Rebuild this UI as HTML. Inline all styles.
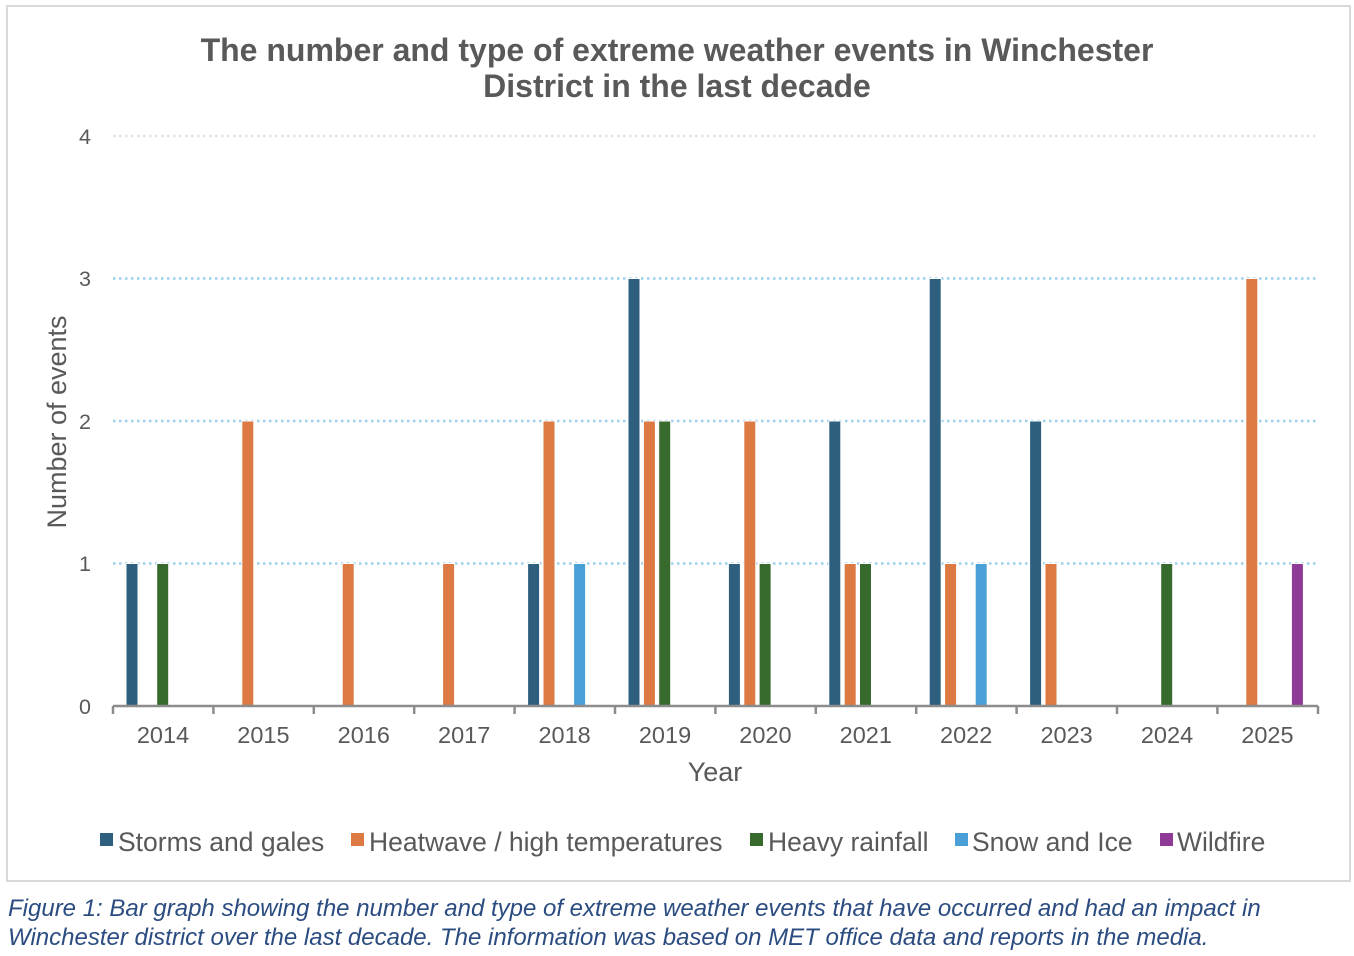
<!DOCTYPE html>
<html><head><meta charset="utf-8"><style>
body{margin:0;background:#fff;}
svg{display:block;font-family:"Liberation Sans",Arial,sans-serif;}
</style></head><body>
<svg width="1354" height="956" viewBox="0 0 1354 956" xmlns="http://www.w3.org/2000/svg">
<rect x="7" y="6" width="1343" height="875" fill="#fff" stroke="#d9d9d9" stroke-width="2"/>
<g font-weight="bold" font-size="32" fill="#595959" text-anchor="middle">
<text x="677" y="61">The number and type of extreme weather events in Winchester</text>
<text x="677" y="97">District in the last decade</text>
</g>
<g stroke="#9dd0ec" stroke-width="2.5" stroke-dasharray="2.5,3.5">
<line x1="113" y1="136" x2="1318" y2="136" stroke="#e2e2e2"/>
<line x1="113" y1="278.5" x2="1318" y2="278.5"/>
<line x1="113" y1="421" x2="1318" y2="421"/>
<line x1="113" y1="563.5" x2="1318" y2="563.5"/>
</g>
<g font-size="21.5" fill="#595959" text-anchor="end">
<text x="91" y="144">4</text><text x="91" y="286">3</text><text x="91" y="429">2</text><text x="91" y="571">1</text><text x="91" y="714">0</text>
</g>
<g stroke="#fff" stroke-width="1">
<g fill="#2e5f7f">
<rect x="126" y="563.5" width="12" height="142.5"/>
<rect x="527.6" y="563.5" width="12" height="142.5"/>
<rect x="628" y="278.5" width="12" height="427.5"/>
<rect x="728.4" y="563.5" width="12" height="142.5"/>
<rect x="828.8" y="421" width="12" height="285"/>
<rect x="929.2" y="278.5" width="12" height="427.5"/>
<rect x="1029.6" y="421" width="12" height="285"/>
</g>
<g fill="#dd7a43">
<rect x="241.8" y="421" width="12" height="285"/>
<rect x="342.2" y="563.5" width="12" height="142.5"/>
<rect x="442.6" y="563.5" width="12" height="142.5"/>
<rect x="543" y="421" width="12" height="285"/>
<rect x="643.4" y="421" width="12" height="285"/>
<rect x="743.8" y="421" width="12" height="285"/>
<rect x="844.2" y="563.5" width="12" height="142.5"/>
<rect x="944.6" y="563.5" width="12" height="142.5"/>
<rect x="1045" y="563.5" width="12" height="142.5"/>
<rect x="1245.8" y="278.5" width="12" height="427.5"/>
</g>
<g fill="#376b2e">
<rect x="156.7" y="563.5" width="12" height="142.5"/>
<rect x="658.7" y="421" width="12" height="285"/>
<rect x="759.1" y="563.5" width="12" height="142.5"/>
<rect x="859.5" y="563.5" width="12" height="142.5"/>
<rect x="1160.7" y="563.5" width="12" height="142.5"/>
</g>
<g fill="#4a9fd6">
<rect x="573.6" y="563.5" width="12" height="142.5"/>
<rect x="975.2" y="563.5" width="12" height="142.5"/>
</g>
<rect x="1291.4" y="563.5" width="12" height="142.5" fill="#8e3a96"/>
</g>
<g stroke="#8c8c8c" stroke-width="2.5">
<line x1="113" y1="706" x2="1318" y2="706"/>
<line x1="113" y1="706" x2="113" y2="714"/><line x1="213.4" y1="706" x2="213.4" y2="714"/><line x1="313.8" y1="706" x2="313.8" y2="714"/><line x1="414.2" y1="706" x2="414.2" y2="714"/><line x1="514.6" y1="706" x2="514.6" y2="714"/><line x1="615" y1="706" x2="615" y2="714"/><line x1="715.4" y1="706" x2="715.4" y2="714"/><line x1="815.8" y1="706" x2="815.8" y2="714"/><line x1="916.2" y1="706" x2="916.2" y2="714"/><line x1="1016.6" y1="706" x2="1016.6" y2="714"/><line x1="1117" y1="706" x2="1117" y2="714"/><line x1="1217.4" y1="706" x2="1217.4" y2="714"/><line x1="1318" y1="706" x2="1318" y2="714"/>
</g>
<g font-size="23.5" fill="#595959" text-anchor="middle">
<text x="163" y="743">2014</text><text x="263.4" y="743">2015</text><text x="363.8" y="743">2016</text><text x="464.2" y="743">2017</text><text x="564.6" y="743">2018</text><text x="665" y="743">2019</text><text x="765.4" y="743">2020</text><text x="865.8" y="743">2021</text><text x="966.2" y="743">2022</text><text x="1066.6" y="743">2023</text><text x="1167" y="743">2024</text><text x="1267.4" y="743">2025</text>
<text x="715" y="781" font-size="27">Year</text>
<text transform="translate(66,422) rotate(-90)" font-size="27">Number  of events</text>
</g>
<g font-size="26.5" fill="#595959">
<rect x="100" y="833" width="13" height="13" fill="#2e5f7f"/><text x="118" y="851">Storms and gales</text>
<rect x="351" y="833" width="13" height="13" fill="#dd7a43"/><text x="369" y="851">Heatwave / high temperatures</text>
<rect x="750" y="833" width="13" height="13" fill="#376b2e"/><text x="768" y="851">Heavy rainfall</text>
<rect x="955" y="833" width="13" height="13" fill="#4a9fd6"/><text x="972" y="851">Snow and Ice</text>
<rect x="1160" y="833" width="13" height="13" fill="#8e3a96"/><text x="1177" y="851">Wildfire</text>
</g>
<g font-size="24" font-style="italic" fill="#2b4c80">
<text x="8" y="916">Figure 1: Bar graph showing the number and type of extreme weather events that have occurred and had an impact in</text>
<text x="8" y="945">Winchester district over the last decade. The information was based on MET office data and reports in the media.</text>
</g>
</svg>
</body></html>
